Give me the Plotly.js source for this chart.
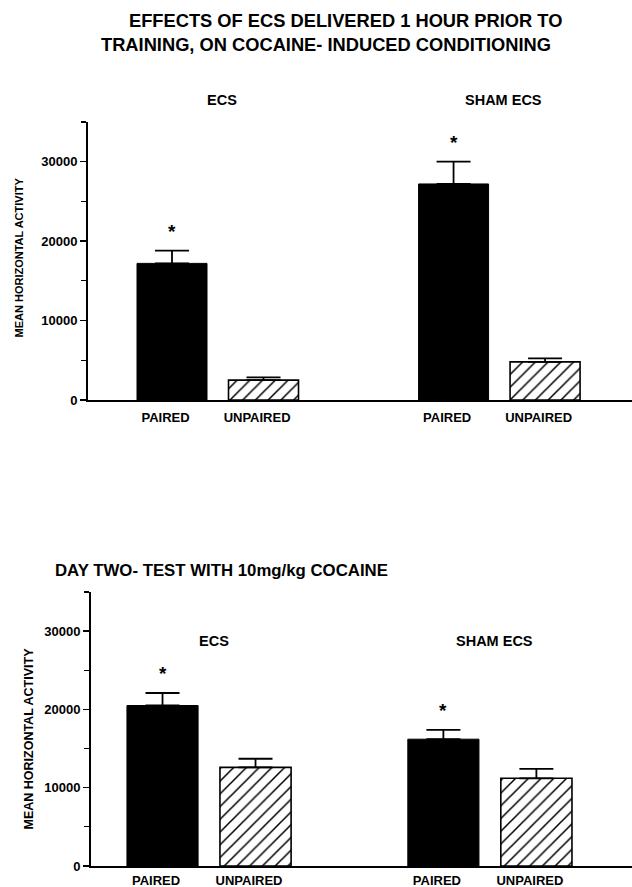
<!DOCTYPE html>
<html><head><meta charset="utf-8">
<script src="https://cdn.plot.ly/plotly-3.0.1.min.js"></script>
<style>html,body{margin:0;padding:0;background:#fff}#chart{width:632px;height:887px}</style>
</head><body><div id="chart"></div>
<script>
// ---- data ----
const groups = ["ECS", "SHAM ECS"];
const conditions = ["PAIRED", "UNPAIRED"];
const trainPaired = [17200, 27200];
const trainPairedErr = [1600, 2800];
const trainUnpaired = [2500, 4800];
const trainUnpairedErr = [350, 450];
const testPaired = [20500, 16200];
const testPairedErr = [1600, 1200];
const testUnpaired = [12600, 11200];
const testUnpairedErr = [1100, 1200];
const trainSignificant = [true, true];
const testSignificant = [true, true];
const titleLines = ["EFFECTS OF ECS DELIVERED 1 HOUR PRIOR TO", "TRAINING, ON COCAINE- INDUCED CONDITIONING"];
const testTitle = "DAY TWO- TEST WITH 10mg/kg COCAINE";
const yTitle = "MEAN HORIZONTAL ACTIVITY";

const FONT = "Liberation Sans, Arial, Helvetica, sans-serif";
const W = 632, H = 887;

function panel(paired, pairedErr, unpaired, unpairedErr, sig, G, xa, ya) {
  const xP = groups.map((g, i) => i * G);
  const xU = groups.map((g, i) => i * G + 1);
  const zeros = groups.map(() => 0);
  const traces = [
    {type: 'bar', x: xP, y: paired, width: 0.765, xaxis: xa, yaxis: ya,
     marker: {color: '#000', line: {color: '#000', width: 1}},
     error_y: {type: 'data', array: pairedErr, arrayminus: zeros, symmetric: false, color: '#000', thickness: 1.8, width: 17},
     hoverinfo: 'skip', showlegend: false, name: conditions[0]},
    {type: 'bar', x: xU, y: unpaired, width: 0.765, xaxis: xa, yaxis: ya,
     marker: {color: '#fff', line: {color: '#000', width: 1.6},
              pattern: {shape: '/', size: 9, solidity: 0.17, fgcolor: '#000', bgcolor: '#fff'}},
     error_y: {type: 'data', array: unpairedErr, arrayminus: zeros, symmetric: false, color: '#000', thickness: 1.8, width: 17},
     hoverinfo: 'skip', showlegend: false, name: conditions[1]}
  ];
  const stars = [];
  sig.forEach((s, i) => {
    if (s) stars.push({xref: xa, yref: ya, x: xP[i], y: paired[i] + pairedErr[i], text: '*', showarrow: false,
      yshift: 19, font: {family: FONT, size: 19, weight: 'bold', color: '#000'}});
  });
  const tickvals = [...xP, ...xU].map(v => v - 0.07);
  const ticktext = [...xP.map(() => conditions[0]), ...xU.map(() => conditions[1])];
  const groupCenters = groups.map((g, i) => i * G + 0.55);
  return {traces, stars, tickvals, ticktext, groupCenters};
}

const G1 = 3.077, G2 = 3.02;
const p1 = panel(trainPaired, trainPairedErr, trainUnpaired, trainUnpairedErr, trainSignificant, G1, 'x', 'y');
const p2 = panel(testPaired, testPairedErr, testUnpaired, testUnpairedErr, testSignificant, G2, 'x2', 'y2');

function yAxis(domain, anchor) {
  return {domain, anchor, range: [0, 35000], showline: true, linewidth: 2, linecolor: '#000',
    showgrid: false, zeroline: false, ticks: 'outside', ticklen: 6, tickwidth: 1.5, tickcolor: '#000',
    tick0: 0, dtick: 10000, tickformat: 'd',
    minor: {dtick: 5000, ticks: 'outside', ticklen: 5, tickwidth: 1.2, tickcolor: '#000', showgrid: false},
    tickfont: {family: FONT, size: 13, weight: 'bold', color: '#000'}, fixedrange: true};
}
function xAxis(domain, range, anchor, p, standoff) {
  return {domain, range, anchor, showline: true, linewidth: 2, linecolor: '#000', showgrid: false, zeroline: false,
    ticks: '', tickmode: 'array', tickvals: p.tickvals, ticktext: p.ticktext, ticklabelstandoff: standoff,
    tickfont: {family: FONT, size: 13, weight: 'bold', color: '#000'}, fixedrange: true};
}

const textFont = (size) => ({family: FONT, size, weight: 'bold', color: '#000'});
const annotations = [
  {xref: 'paper', yref: 'paper', x: 345 / W, y: 1 - 21 / H, text: titleLines[0], showarrow: false, xanchor: 'center', yanchor: 'middle', font: textFont(18.3)},
  {xref: 'paper', yref: 'paper', x: 326 / W, y: 1 - 45 / H, text: titleLines[1], showarrow: false, xanchor: 'center', yanchor: 'middle', font: textFont(18.3)},
  {xref: 'paper', yref: 'paper', x: 53 / W, y: 1 - 570 / H, text: testTitle, showarrow: false, xanchor: 'left', yanchor: 'middle', font: textFont(16.8)},
  {xref: 'paper', yref: 'paper', x: 18.5 / W, y: 1 - 258 / H, text: yTitle, textangle: -90, showarrow: false, xanchor: 'center', yanchor: 'middle', font: textFont(11)},
  {xref: 'paper', yref: 'paper', x: 28.5 / W, y: 1 - 739 / H, text: yTitle, textangle: -90, showarrow: false, xanchor: 'center', yanchor: 'middle', font: textFont(12.5)},
  ...groups.map((g, i) => ({xref: 'x', yref: 'paper', x: p1.groupCenters[i], y: 1 - 100 / H, text: g, showarrow: false, xanchor: 'center', yanchor: 'middle', font: textFont(14.5)})),
  ...groups.map((g, i) => ({xref: 'x2', yref: 'paper', x: p2.groupCenters[i], y: 1 - 641 / H, text: g, showarrow: false, xanchor: 'center', yanchor: 'middle', font: textFont(14.5)})),
  ...p1.stars, ...p2.stars
];

const layout = {
  width: W, height: H, margin: {l: 0, r: 0, t: 0, b: 0},
  paper_bgcolor: '#fff', plot_bgcolor: 'rgba(0,0,0,0)',
  showlegend: false, barmode: 'overlay',
  font: {family: FONT, color: '#000'},
  xaxis: xAxis([88 / W, 1], [-0.918, 5.027], 'y', p1, 4),
  yaxis: yAxis([(H - 400) / H, (H - 122) / H], 'x'),
  xaxis2: xAxis([91 / W, 1], [-0.769, 5.048], 'y2', p2, 1),
  yaxis2: yAxis([(H - 866) / H, (H - 592) / H], 'x2'),
  annotations
};

Plotly.newPlot('chart', [...p1.traces, ...p2.traces], layout, {staticPlot: true, displayModeBar: false});
</script>
</body></html>
